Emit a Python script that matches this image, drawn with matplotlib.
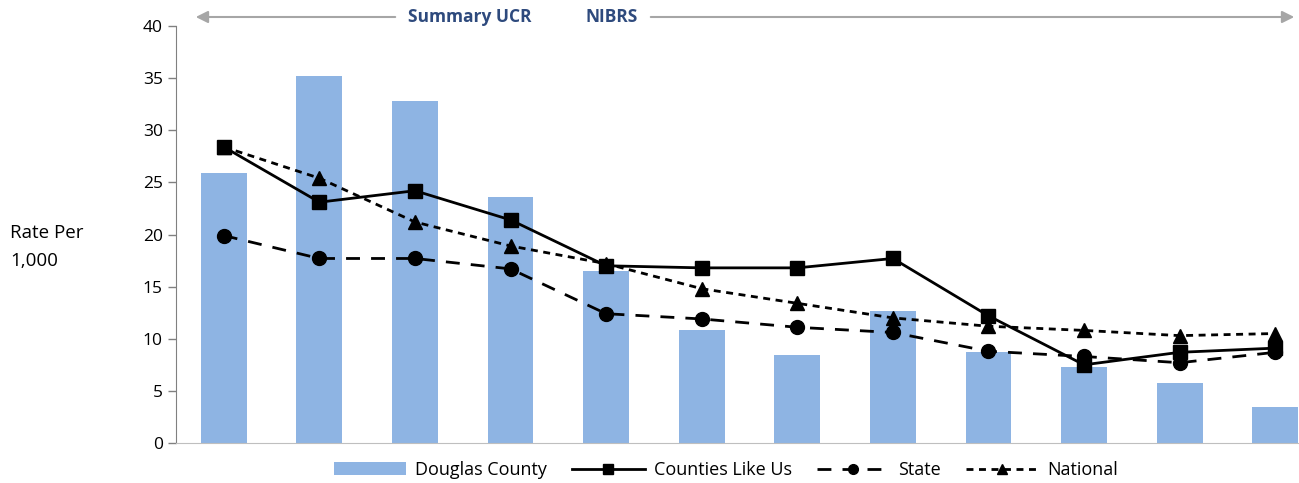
import matplotlib.pyplot as plt
from matplotlib.patches import FancyArrowPatch
import numpy as np

plt.rcParams['font.family'] = ['Open Sans', 'DejaVu Sans']

years = list(range(12))
douglas = [25.9, 35.2, 32.8, 23.6, 16.5, 10.8, 8.4, 12.7, 8.7, 7.3, 5.8, 3.5]
counties = [28.4, 23.1, 24.2, 21.4, 17.0, 16.8, 16.8, 17.7, 12.2, 7.5, 8.7, 9.1]
state = [19.9, 17.7, 17.7, 16.7, 12.4, 11.9, 11.1, 10.6, 8.8, 8.3, 7.7, 8.7]
national = [28.4, 25.4, 21.2, 18.9, 17.2, 14.8, 13.4, 12.0, 11.2, 10.8, 10.3, 10.5]

fig = plt.figure(figsize=(12.99, 4.83), dpi=100)
# the last column runs off the right edge on purpose
ax = fig.add_axes([176/1299, 1 - 443/483, 1147/1299, 417/483])

x = np.arange(len(years))
b = ax.bar(x, douglas, width=0.48, color='#8EB4E3', label='Douglas County', zorder=1)
l1, = ax.plot(x, counties, color='black', lw=2, marker='s', ms=10, label='Counties Like Us', zorder=3)
l2, = ax.plot(x, state, color='black', lw=2, ls=(0, (5, 4)), marker='o', ms=10, label='State', zorder=3)
l3, = ax.plot(x, national, color='black', lw=2, ls=(0, (2.5, 2)), marker='^', ms=10, label='National', zorder=3)

ax.set_xlim(-0.5, 11.5)
ax.set_ylim(0, 40)
ax.set_yticks(range(0, 41, 5))
ax.set_xticks([])
ax.tick_params(axis='y', labelsize=12.5, length=6, color='#808080', width=1)
for s in ['top', 'right']:
    ax.spines[s].set_visible(False)
ax.spines['left'].set_color('#808080')
ax.spines['bottom'].set_color('#bfbfbf')

fig.text(10/1299, 1 - 247/483, 'Rate Per\n1,000', fontsize=13.5, va='center', ha='left', linespacing=1.7)

# reporting system arrows across the top
ay = 1 - 17/483
arrow = dict(arrowstyle='-|>', color='#a6a6a6', lw=1.5, mutation_scale=18)
fig.add_artist(FancyArrowPatch((398/1299, ay), (193/1299, ay), transform=fig.transFigure, **arrow))
fig.add_artist(FancyArrowPatch((648/1299, ay), (1297/1299, ay), transform=fig.transFigure, **arrow))
fig.text(470/1299, ay, 'Summary UCR', color='#2E4A7D', fontsize=12.5, fontweight='bold', ha='center', va='center')
fig.text(612/1299, ay, 'NIBRS', color='#2E4A7D', fontsize=12.5, fontweight='bold', ha='center', va='center')

fig.legend([b, l1, l2, l3], ['Douglas County', 'Counties Like Us', 'State', 'National'],
           loc='center', bbox_to_anchor=(726/1299, 1 - 470/483), ncol=4, frameon=False,
           fontsize=13, handlelength=4, handletextpad=0.5, columnspacing=1.4, markerscale=0.7)

plt.savefig('out.png', dpi=100)
